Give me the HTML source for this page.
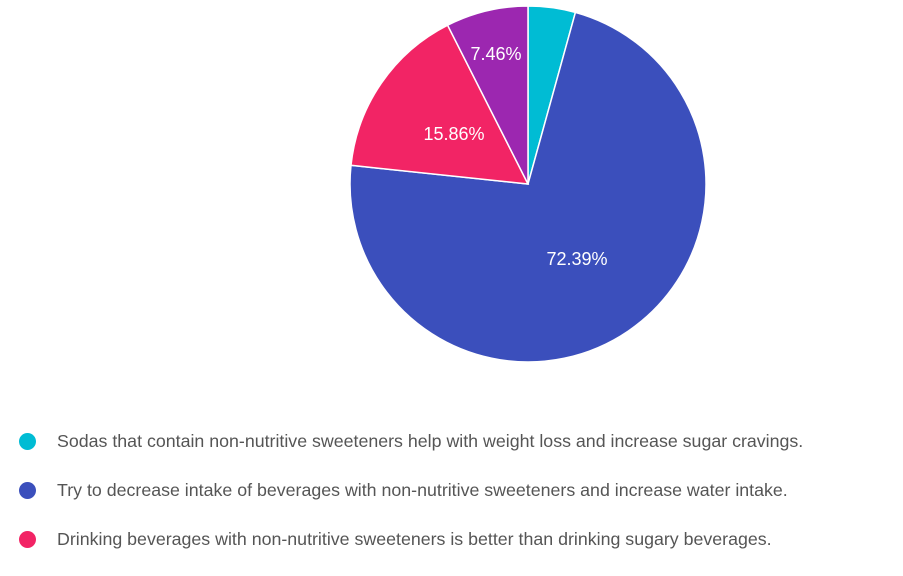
<!DOCTYPE html>
<html><head><style>
html,body{margin:0;width:903px;height:576px;overflow:hidden;background:#fff;font-family:"Liberation Sans",Arial,sans-serif;}
.li{position:absolute;left:57px;font-size:17.8px;color:#555;white-space:nowrap;line-height:20px}
.dot{position:absolute;left:19px;width:17px;height:17px;border-radius:50%}
</style></head><body>
<svg width="903" height="576" style="position:absolute;left:0;top:0">
<g stroke="#fff" stroke-width="1.5">
<path d="M528,184 L528,6 A178,178 0 0 1 575.4,12.4 Z" fill="#00bcd4"/>
<path d="M528,184 L575.4,12.4 A178,178 0 1 1 351,165.3 Z" fill="#3b4fbc"/>
<path d="M528,184 L351,165.3 A178,178 0 0 1 447.6,25.2 Z" fill="#f22465"/>
<path d="M528,184 L447.6,25.2 A178,178 0 0 1 528,6 Z" fill="#9c27b0"/>
</g>
<g fill="#fff" font-size="18" font-family="Liberation Sans, Arial, sans-serif" text-anchor="middle">
<text x="496" y="60">7.46%</text>
<text x="454" y="140">15.86%</text>
<text x="577" y="265">72.39%</text>
</g>
</svg>
<div class="dot" style="top:433px;background:#00bcd4"></div>
<div class="li" style="top:431px">Sodas that contain non-nutritive sweeteners help with weight loss and increase sugar cravings.</div>
<div class="dot" style="top:482px;background:#3b4fbc"></div>
<div class="li" style="top:480px">Try to decrease intake of beverages with non-nutritive sweeteners and increase water intake.</div>
<div class="dot" style="top:531px;background:#f22465"></div>
<div class="li" style="top:529px">Drinking beverages with non-nutritive sweeteners is better than drinking sugary beverages.</div>
</body></html>
